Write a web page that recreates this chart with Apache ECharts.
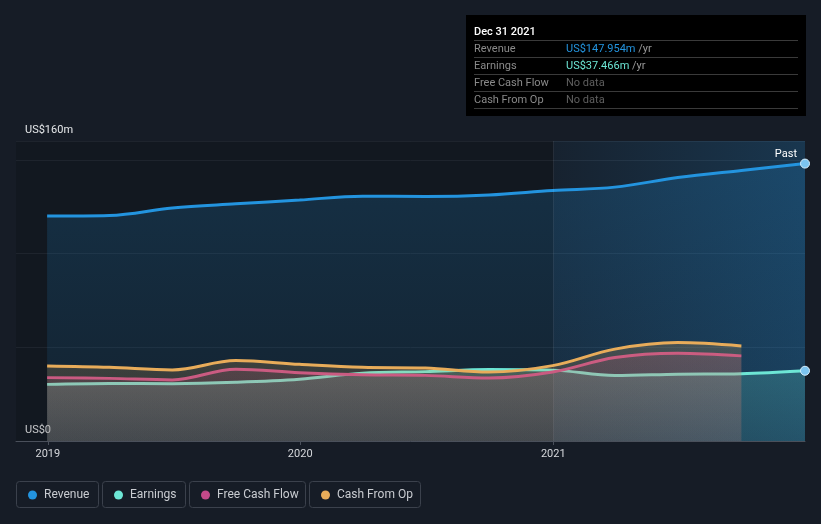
<!DOCTYPE html>
<html>
<head>
<meta charset="utf-8">
<script src="https://cdn.jsdelivr.net/npm/echarts@6/dist/echarts.min.js"></script>
<style>
html,body{margin:0;padding:0;background:#161c26;}
#chart{width:821px;height:524px;}
</style>
</head>
<body>
<div id="chart"></div>
<script>
// ---- data (US$ millions) ----
const dates = ['2018-12-31','2019-03-31','2019-06-30','2019-09-30','2019-12-31','2020-03-31','2020-06-30','2020-09-30','2020-12-31','2021-03-31','2021-06-30','2021-09-30','2021-12-31'];
const revenue = [120.0,120.3,124.3,126.5,128.5,130.6,130.4,131.2,133.6,135.4,140.5,144.3,147.954];
const earnings = [30.2,30.7,30.6,31.3,32.9,36.2,37.0,38.1,37.8,34.9,35.6,35.9,37.466];
const freeCashFlow = [33.8,33.4,32.6,38.3,36.4,35.3,35.0,33.6,36.8,44.5,46.8,45.4];
const cashFromOp = [40.0,39.3,37.9,42.9,40.9,39.3,38.9,36.8,40.2,49.0,52.5,50.7];
const seriesNames = ['Revenue','Earnings','Free Cash Flow','Cash From Op'];
const yTickLabels = {0:'US$0',160:'US$160m'};
const tipTitle = 'Dec 31 2021';
const tipValues = ['US$147.954m','US$37.466m','No data','No data'];
const tipUnits = [' /yr',' /yr','',''];
const pastLabel = 'Past';
const pastStart = '2021-01-01';
const xMin = '2018-11-16';
const xMax = '2021-12-31';
const yMax = 160;

const colors = ['#2394df','#6de6d5','#c4498a','#e8ac5a'];
const FONT = 'Roboto';

function rgba(hex,a){const n=parseInt(hex.slice(1),16);return `rgba(${n>>16&255},${n>>8&255},${n&255},${a})`;}
function vgrad(hex,a0,a1){return new echarts.graphic.LinearGradient(0,0,0,1,[{offset:0,color:rgba(hex,a0)},{offset:1,color:rgba(hex,a1)}]);}

function makeData(vals, endMarker){
  return vals.map((v,i)=>{
    const item = {value:[dates[i], v]};
    if(endMarker && i===vals.length-1){item.symbol='circle';item.symbolSize=9;item.itemStyle={color:'#7cc4f0',borderColor:'#d8eefc',borderWidth:1};}
    return item;
  });
}

const chart = echarts.init(document.getElementById('chart'));

const legendLefts = [28,114,201,321];
const legendBoxes = [[16,82],[102,83],[189,116],[309,111]];

const graphic = [];
// tooltip box
graphic.push({type:'rect',left:466,top:15,shape:{width:340,height:101},style:{fill:'#000000'},z:100});
graphic.push({type:'text',left:474,top:27,style:{text:tipTitle,fill:'#ffffff',font:'500 11px '+FONT},z:101});
for(let i=0;i<5;i++){
  graphic.push({type:'line',shape:{x1:474,y1:40.5+17*i,x2:798,y2:40.5+17*i},style:{stroke:'#3a3a3a',lineWidth:1},z:101});
}
for(let i=0;i<4;i++){
  graphic.push({type:'text',left:474,top:44+17*i,style:{text:seriesNames[i],fill:'#8a8a8a',font:'11px '+FONT},z:101});
  const hasData = tipUnits[i] !== '';
  graphic.push({type:'text',left:566,top:44+17*i,style:{
    text:'{v|'+tipValues[i]+'}'+(hasData?'{u|'+tipUnits[i]+'}':''),
    rich:{v:{fill:hasData?colors[i]:'#5f5f5f',font:'11px '+FONT},u:{fill:'#9a9a9a',font:'11px '+FONT}}
  },z:101});
}
// legend borders
legendBoxes.forEach(b=>{
  graphic.push({type:'rect',shape:{x:b[0]+0.5,y:481.5,width:b[1],height:26,r:3},style:{fill:'none',stroke:'#3b414c',lineWidth:1},z:10});
});

const option = {
  backgroundColor:'#161c26',
  animation:false,
  textStyle:{fontFamily:FONT},
  grid:{left:16,right:16,top:141,bottom:83,containLabel:false},
  legend: seriesNames.map((n,i)=>({
    data:[n],left:legendLefts[i],top:489,padding:0,icon:'circle',itemWidth:9,itemHeight:9,
    textStyle:{color:'#c9ccd1',fontSize:12,fontFamily:FONT,padding:[0,0,0,2]},selectedMode:false
  })),
  xAxis:{
    type:'time',min:xMin,max:xMax,
    minInterval:365*86400000,maxInterval:366*86400000,
    axisLine:{show:true,lineStyle:{color:'#4a505b',width:1}},
    axisTick:{show:true,length:4,lineStyle:{color:'#4a505b'}},
    axisLabel:{color:'#d6d8dc',fontSize:11,margin:8,formatter:'{yyyy}',showMinLabel:false,showMaxLabel:false},
    splitLine:{show:false}
  },
  yAxis:[
    {type:'value',min:0,max:yMax,interval:160,position:'left',
     axisLine:{show:false},axisTick:{show:false},
     axisLabel:{inside:true,margin:9,color:'#e6e8ea',fontSize:11,verticalAlign:'bottom',padding:[0,0,5,0],
       formatter:v=>yTickLabels[v]||''},
     splitLine:{show:true,lineStyle:{color:'#3a404b',width:1}}},
    {type:'value',min:0,max:yMax,interval:50,position:'right',
     axisLine:{show:false},axisTick:{show:false},axisLabel:{show:false},
     splitLine:{show:true,lineStyle:{color:'#232a35',width:1}}}
  ],
  graphic: graphic,
  series:[
    {name:seriesNames[0],type:'line',smooth:0.35,symbol:'none',showSymbol:true,data:makeData(revenue,true),
     lineStyle:{color:colors[0],width:3},itemStyle:{color:colors[0]},
     areaStyle:{color:vgrad(colors[0],0.28,0.12)},z:3,
     markArea:{silent:true,label:{show:false},
       data:[
       [{xAxis:xMin,itemStyle:{color:'rgba(0,0,0,0.14)'}},{xAxis:pastStart}],
       [{xAxis:pastStart,itemStyle:{color:new echarts.graphic.LinearGradient(0,0,1,0,[{offset:0,color:'rgba(35,148,223,0.05)'},{offset:1,color:'rgba(35,148,223,0.22)'}])}},{xAxis:xMax}]
     ]},
     markLine:{silent:true,symbol:'none',label:{show:false},lineStyle:{color:'rgba(255,255,255,0.07)',type:'solid',width:1},data:[{xAxis:pastStart}]}
    },
    {name:seriesNames[1],type:'line',smooth:0.35,symbol:'none',showSymbol:true,data:makeData(earnings,true),
     lineStyle:{color:colors[1],width:3},itemStyle:{color:colors[1]},
     areaStyle:{color:vgrad(colors[1],0.3,0.18)},z:4},
    {name:seriesNames[2],type:'line',smooth:0.35,symbol:'none',showSymbol:false,data:makeData(freeCashFlow,false),
     lineStyle:{color:colors[2],width:3},itemStyle:{color:colors[2]},
     areaStyle:{color:vgrad(colors[2],0.26,0.15)},z:5},
    {name:seriesNames[3],type:'line',smooth:0.35,symbol:'none',showSymbol:false,data:makeData(cashFromOp,false),
     lineStyle:{color:colors[3],width:3},itemStyle:{color:colors[3]},
     areaStyle:{color:vgrad(colors[3],0.3,0.16)},z:6}
  ]
};
chart.setOption(option);

// "Past" label anchored to the top-right corner of the past region, via the chart's own scales
const px = chart.convertToPixel({xAxisIndex:0}, xMax);
const py = chart.convertToPixel({yAxisIndex:0}, yMax);
graphic.push({type:'text',x:px-8,y:py+13,style:{text:pastLabel,fill:'#ffffff',font:'11px '+FONT,align:'right',verticalAlign:'middle'},z:50});
chart.setOption({graphic:graphic});
</script>
</body>
</html>
